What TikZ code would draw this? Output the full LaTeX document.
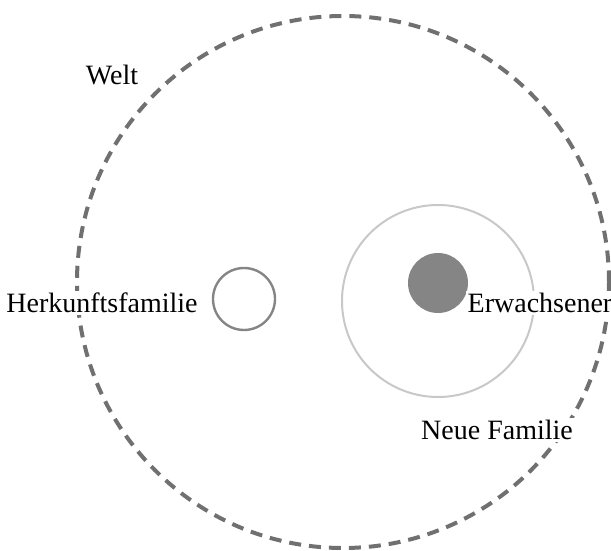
\documentclass[tikz,border=0pt]{standalone}
\usepackage{fontspec}
\setmainfont{Liberation Serif}
\usepackage{xcolor}

\definecolor{weltgrau}{HTML}{707070}
\definecolor{mittelgrau}{HTML}{858585}
\definecolor{hellgrau}{HTML}{C8C8C8}

\begin{document}
\begin{tikzpicture}[x=0.5pt, y=-0.5pt,
    welt/.style={draw=weltgrau, line width=2pt, dash pattern=on 6pt off 4pt},
    ring/.style={circle, draw=mittelgrau, line width=1.2pt, inner sep=0pt, minimum size=31pt},
    neu/.style={circle, draw=hellgrau, line width=1pt, inner sep=0pt, minimum size=96pt},
    person/.style={circle, fill=mittelgrau, inner sep=0pt, minimum size=30pt},
    label/.style={fill=white, inner sep=1pt, font=\fontsize{14}{17}\selectfont}]

    \useasboundingbox (0,0) rectangle (611,551);

    % World
    \draw[welt] (343,282) circle[radius=266];

    % Families and the adult
    \node[ring] (herkunft) at (244,299) {};
    \node[neu] (neuefam) at (438,301) {};
    \node[person] (erwachsener) at (438,283) {};

    % Labels
    \node[label] (weltlbl) at (112,75) {Welt};
    \node[label] (herkunftlbl) at (102,303) {Herkunftsfamilie};
    \node[label] (erwlbl) at (540,303) {Erwachsener};
    \node[label] (neulbl) at (497,430) {Neue Familie};

\end{tikzpicture}
\end{document}
